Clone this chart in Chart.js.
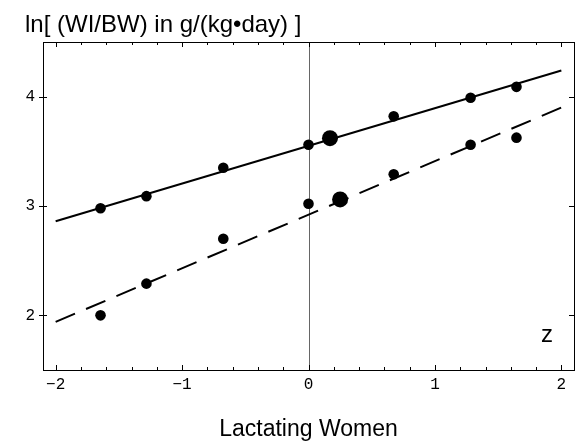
<!DOCTYPE html>
<html>
<head>
<meta charset="utf-8">
<script src="https://cdn.jsdelivr.net/npm/chart.js@4"></script>
<style>
  body { margin: 0; background: #fff; }
  canvas { display: block; }
</style>
</head>
<body>
<canvas id="myCanvas" width="586" height="447"></canvas>
<script>
// fitted lines, read at the plot edges
const lineX = [-2, 2];
const upperFit = [2.86, 4.24];
const lowerFit = [1.94, 3.90];

// z scores and measured values
const zScores = [-1.645, -1.282, -0.674, 0, 0.674, 1.282, 1.645];
const upperValues = [2.98, 3.09, 3.35, 3.56, 3.82, 3.99, 4.09];
const lowerValues = [2.00, 2.29, 2.70, 3.02, 3.29, 3.56, 3.625];

// mean points (bigger dots)
const meanX = [0.17, 0.25];
const meanY = [3.62, 3.06];

const xTicks = [-2, -1, 0, 1, 2];
const yTicks = [2, 3, 4];
const yTitle = "ln[ (WI/BW) in g/(kg\u2022day) ]";
const xTitle = "Lactating Women";
const cornerLabel = "z";

function toPoints(xs, ys) {
    var pts = new Array();
    for (var i = 0; i < xs.length; i++) {
        pts.push({ x: xs[i], y: ys[i] });
    }
    return pts;
}

function minusLabel(v) {
    return v < 0 ? "\u2212" + Math.abs(v) : "" + v;
}

// frame, inward ticks, zero line and free texts
const framePlugin = {
    id: 'frame',
    beforeDatasetsDraw(chart) {
        const ctx = chart.ctx;
        const a = chart.chartArea;
        const x0 = Math.round(chart.scales.x.getPixelForValue(0)) + 0.5;
        ctx.save();
        ctx.strokeStyle = '#666';
        ctx.lineWidth = 1;
        ctx.beginPath();
        ctx.moveTo(x0, a.top);
        ctx.lineTo(x0, a.bottom);
        ctx.stroke();
        ctx.restore();
    },
    afterDatasetsDraw(chart) {
        const ctx = chart.ctx;
        const a = chart.chartArea;
        const xs = chart.scales.x;
        const ys = chart.scales.y;
        ctx.save();
        ctx.strokeStyle = '#000';
        ctx.lineWidth = 1;
        ctx.strokeRect(Math.round(a.left) + 0.5, Math.round(a.top) + 0.5,
            Math.round(a.right - a.left), Math.round(a.bottom - a.top));

        ctx.beginPath();
        for (var i = 0; i <= 20; i++) {
            var v = -2 + i * 0.2;
            var px = Math.round(xs.getPixelForValue(v)) + 0.5;
            var len = (i % 5 === 0) ? 5 : 3;
            ctx.moveTo(px, a.bottom);
            ctx.lineTo(px, a.bottom - len);
            ctx.moveTo(px, a.top);
            ctx.lineTo(px, a.top + len);
        }
        for (var t of yTicks) {
            var py = Math.round(ys.getPixelForValue(t)) + 0.5;
            ctx.moveTo(a.left - 4, py);
            ctx.lineTo(a.left + 4, py);
            ctx.moveTo(a.right, py);
            ctx.lineTo(a.right - 5, py);
        }
        ctx.stroke();

        ctx.fillStyle = '#000';
        ctx.font = '24px "Liberation Sans", Arial, sans-serif';
        ctx.textAlign = 'left';
        ctx.textBaseline = 'alphabetic';
        ctx.fillText(yTitle, 25, 32);
        ctx.textAlign = 'center';
        ctx.textBaseline = 'middle';
        ctx.fillText(cornerLabel, 547, 335);
        ctx.restore();
    }
};

const canvas = document.getElementById('myCanvas');
const ctx = canvas.getContext('2d');

const chart = new Chart(ctx, {
    type: 'scatter',
    data: {
        datasets: [
            {
                data: toPoints(lineX, upperFit),
                showLine: true,
                borderColor: '#000',
                borderWidth: 2,
                pointRadius: 0
            },
            {
                data: toPoints(lineX, lowerFit),
                showLine: true,
                borderColor: '#000',
                borderWidth: 2,
                borderDash: [21, 12],
                pointRadius: 0
            },
            {
                data: toPoints(zScores, upperValues),
                backgroundColor: '#000',
                borderColor: '#000',
                pointRadius: 5.3,
                borderWidth: 0
            },
            {
                data: toPoints(zScores, lowerValues),
                backgroundColor: '#000',
                borderColor: '#000',
                pointRadius: 5.3,
                borderWidth: 0
            },
            {
                data: toPoints(meanX, meanY),
                backgroundColor: '#000',
                borderColor: '#000',
                pointRadius: 8,
                borderWidth: 0
            }
        ]
    },
    options: {
        responsive: false,
        animation: false,
        events: [],
        layout: {
            padding: { top: 42, right: 12, left: 0, bottom: 0 }
        },
        plugins: {
            legend: { display: false },
            tooltip: { enabled: false }
        },
        scales: {
            x: {
                type: 'linear',
                min: -2.1,
                max: 2.1,
                afterBuildTicks: function(s) {
                    s.ticks = xTicks.map(function(v) { return { value: v }; });
                },
                afterFit: function(s) { s.height = 77; },
                grid: { display: false, drawTicks: false },
                border: { display: false },
                ticks: {
                    color: '#000',
                    padding: 5,
                    maxRotation: 0,
                    font: { family: '"Liberation Mono", "Courier New", monospace', size: 16 },
                    callback: minusLabel
                },
                title: {
                    display: true,
                    text: xTitle,
                    color: '#000',
                    font: { family: '"Liberation Sans", Arial, sans-serif', size: 23 },
                    padding: { top: 0, bottom: 4 }
                }
            },
            y: {
                type: 'linear',
                min: 1.5,
                max: 4.5,
                afterBuildTicks: function(s) {
                    s.ticks = yTicks.map(function(v) { return { value: v }; });
                },
                afterFit: function(s) { s.width = 43; },
                grid: { display: false, drawTicks: false },
                border: { display: false },
                ticks: {
                    color: '#000',
                    padding: 8,
                    font: { family: '"Liberation Mono", "Courier New", monospace', size: 16 },
                    callback: minusLabel
                }
            }
        }
    },
    plugins: [framePlugin]
});
</script>
</body>
</html>
